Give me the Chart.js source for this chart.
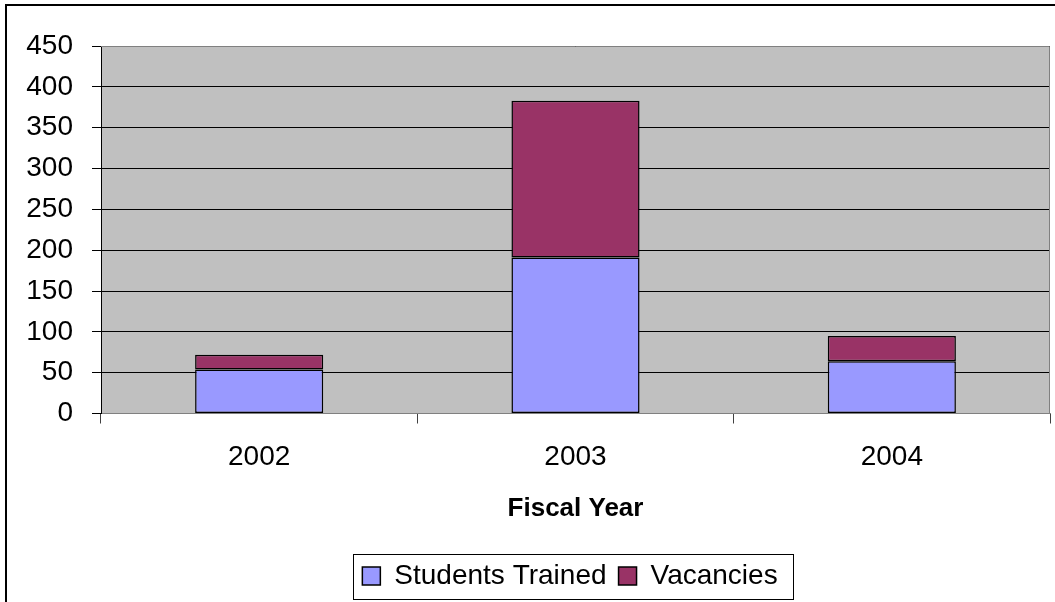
<!DOCTYPE html>
<html>
<head>
<meta charset="utf-8">
<script src="https://cdn.jsdelivr.net/npm/chart.js@4.4.0/dist/chart.umd.min.js"></script>
<style>
  html, body { margin: 0; padding: 0; background: #fff; }
  #wrap { width: 1055px; height: 602px; }
</style>
</head>
<body>
<div id="wrap"><canvas id="chart" width="1055" height="602"></canvas></div>
<script>
// data
const years = ['2002', '2003', '2004'];
const studentsTrained = [54, 191, 64];
const vacancies = [18, 192, 31];
const yTicks = [0, 50, 100, 150, 200, 250, 300, 350, 400, 450];

Chart.defaults.font.family = '"Liberation Sans", Arial, sans-serif';
Chart.defaults.color = '#000';

// grey plot area + outer frame + box round legend
const framePlugin = {
  id: 'frame',
  afterLayout(chart) {
    // move the legend a bit right, as in the original
    chart.legend.left += 90;
  },
  beforeDraw(chart) {
    const ctx = chart.ctx;
    const a = chart.chartArea;
    ctx.save();
    ctx.strokeStyle = '#000';
    ctx.lineWidth = 2;
    ctx.beginPath();
    ctx.moveTo(6, 602);
    ctx.lineTo(6, 5);
    ctx.lineTo(1055, 5);
    ctx.stroke();
    ctx.fillStyle = '#C0C0C0';
    ctx.fillRect(a.left, a.top, a.right - a.left, a.bottom - a.top);
    ctx.restore();
  },
  beforeDatasetsDraw(chart) {
    const ctx = chart.ctx;
    const a = chart.chartArea;
    ctx.save();
    ctx.strokeStyle = '#808080';
    ctx.lineWidth = 1;
    ctx.beginPath();
    ctx.moveTo(a.left, a.top + 0.5);
    ctx.lineTo(a.right - 0.5, a.top + 0.5);
    ctx.lineTo(a.right - 0.5, a.bottom);
    ctx.stroke();
    ctx.restore();
  },
  afterDraw(chart) {
    const boxes = chart.legend.legendHitBoxes;
    if (!boxes || !boxes.length) return;
    const first = boxes[0];
    const last = boxes[boxes.length - 1];
    const ctx = chart.ctx;
    ctx.save();
    ctx.strokeStyle = '#000';
    ctx.lineWidth = 1;
    const x1 = Math.round(first.left - 9) + 0.5;
    const x2 = Math.round(last.left + last.width + 15) + 0.5;
    const y1 = Math.round(first.top - 8) + 0.5;
    const y2 = Math.round(first.top + first.height + 9) + 0.5;
    ctx.strokeRect(x1, y1, x2 - x1, y2 - y1);
    ctx.restore();
  }
};

const ctx = document.getElementById('chart').getContext('2d');
const myChart = new Chart(ctx, {
  type: 'bar',
  data: {
    labels: years,
    datasets: [{
      label: 'Students Trained',
      data: studentsTrained,
      backgroundColor: '#9999FF',
      borderColor: '#000',
      borderWidth: 1.5,
      borderSkipped: false
    }, {
      label: 'Vacancies',
      data: vacancies,
      backgroundColor: '#993366',
      borderColor: '#000',
      borderWidth: 1.5,
      borderSkipped: false
    }]
  },
  options: {
    responsive: false,
    animation: false,
    layout: { padding: { top: 46, right: 5, left: 0, bottom: 2 } },
    datasets: { bar: { categoryPercentage: 1, barPercentage: 0.405 } },
    plugins: {
      tooltip: { enabled: false },
      legend: {
        position: 'bottom',
        labels: {
          font: { size: 28 },
          boxWidth: 18,
          boxHeight: 18,
          padding: 12,
          color: '#000'
        }
      }
    },
    scales: {
      x: {
        stacked: true,
        grid: {
          offset: true,
          drawOnChartArea: false,
          drawTicks: true,
          tickLength: 10,
          color: '#404040'
        },
        border: { color: '#808080', width: 1 },
        ticks: { font: { size: 28 }, padding: 17 },
        title: {
          display: true,
          text: 'Fiscal Year',
          font: { size: 26, weight: 'bold' },
          padding: { top: 0, bottom: 26 }
        },
        afterFit: (scale) => { scale.height = 136.5; }
      },
      y: {
        stacked: true,
        min: 0,
        max: 450,
        afterBuildTicks: (scale) => { scale.ticks = yTicks.map(v => ({ value: v })); },
        grid: { color: '#000', tickLength: 9, lineWidth: 1 },
        border: { color: '#000', width: 1 },
        ticks: { font: { size: 28 }, padding: 19 },
        afterFit: (scale) => { scale.width = 101; }
      }
    }
  },
  plugins: [framePlugin]
});
</script>
</body>
</html>
